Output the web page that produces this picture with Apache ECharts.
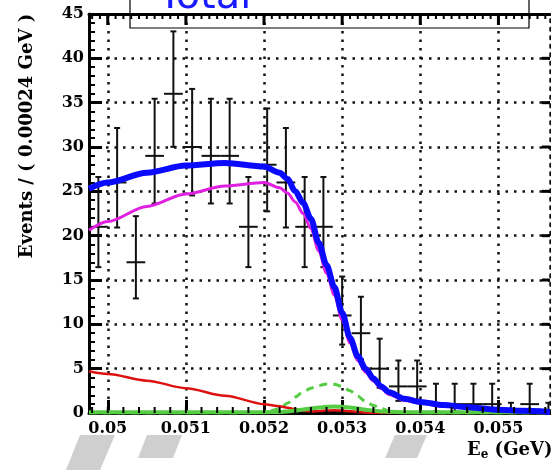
<!DOCTYPE html>
<html>
<head>
<meta charset="utf-8">
<script src="https://cdn.jsdelivr.net/npm/echarts@6/dist/echarts.min.js"></script>
<style>
html, body { margin: 0; padding: 0; background: #fff; }
#chart { width: 551px; height: 470px; }
</style>
</head>
<body>
<div id="chart"></div>
<script>
// histogram bins (GeV), bin width 0.00024
var binWidth = 0.00024;
var binCenters = [0.04988, 0.05012, 0.05036, 0.05060, 0.05084, 0.05108, 0.05132, 0.05156,
	0.05180, 0.05204, 0.05228, 0.05252, 0.05276, 0.05300, 0.05324, 0.05348, 0.05372,
	0.05396, 0.05420, 0.05444, 0.05468, 0.05492, 0.05516, 0.05540, 0.05564];
var counts  = [21, 26, 17, 29, 36, 30, 29, 29, 21, 28, 26, 21, 21, 11, 9, 5, 3, 3, 1, 1, 1, 1, 0, 1, 0];
var errLow  = [4.55, 5.08, 4.08, 5.37, 5.98, 5.46, 5.37, 5.37, 4.55, 5.26, 5.08, 4.55, 4.55,
	3.28, 2.94, 2.16, 1.63, 1.63, 0.83, 0.83, 0.83, 0.83, 0, 0.83, 0];
var errHigh = [5.62, 6.14, 5.20, 6.44, 7.04, 6.55, 6.44, 6.44, 5.62, 6.35, 6.14, 5.62, 5.62,
	4.39, 4.11, 3.38, 2.92, 2.92, 2.30, 2.30, 2.30, 2.30, 1.15, 2.30, 1.15];

// fitted curves, sampled at curveX
var curveX = [0.04976, 0.0500, 0.0505, 0.0510, 0.0515, 0.0520, 0.0522, 0.0523, 0.0524, 0.0525,
	0.0526, 0.0527, 0.0528, 0.0529, 0.0530, 0.0531, 0.0532, 0.0533, 0.0534, 0.0535,
	0.0536, 0.0538, 0.0540, 0.0543, 0.0546, 0.0550, 0.0553, 0.05566];
var totalY   = [25.3, 26.0, 27.1, 27.9, 28.2, 27.8, 27.1, 26.4, 25.0, 23.7, 21.9, 19.2, 16.7, 14.2,
	11.3, 8.5, 6.4, 5.0, 3.9, 3.0, 2.35, 1.6, 1.25, 0.9, 0.65, 0.38, 0.24, 0.12];
var magentaY = [20.6, 21.6, 23.3, 24.7, 25.6, 26.0, 25.4, 24.8, 23.8, 22.5, 20.8, 18.3, 15.8, 13.3,
	10.5, 7.9, 5.9, 4.6, 3.6, 2.75, 2.1, 1.4, 1.1, 0.78, 0.55, 0.32, 0.2, 0.1];
var redY     = [4.7, 4.4, 3.65, 2.8, 1.95, 1.0, 0.75, 0.6, 0.42, 0.25, 0.18, 0.22, 0.28, 0.3,
	0.27, 0.2, 0.12, 0.05, 0.02, 0, 0, 0, 0, 0, 0, 0, 0, 0];
var greenY   = [0.08, 0.08, 0.08, 0.08, 0.08, 0.08, 0.12, 0.18, 0.28, 0.4, 0.52, 0.62, 0.7, 0.72,
	0.7, 0.62, 0.5, 0.38, 0.27, 0.18, 0.13, 0.09, 0.08, 0.08, 0.08, 0.08, 0.08, 0.08];
var dashY    = [0, 0, 0, 0, 0, 0.05, 0.5, 1.1, 1.8, 2.4, 2.8, 3.1, 3.28, 3.25,
	3.0, 2.5, 1.9, 1.3, 0.85, 0.5, 0.28, 0.07, 0.02, 0, 0, 0, 0, 0];
var blackY   = [0, 0, 0, 0, 0, 0, 0, 0, 0.02, 0.08, 0.15, 0.2, 0.22, 0.2,
	0.15, 0.08, 0.03, 0, 0, 0, 0, 0, 0, 0, 0, 0, 0, 0];

// axis ticks
var xMajor = [0.050, 0.051, 0.052, 0.053, 0.054, 0.055];
var xLabels = ['0.05', '0.051', '0.052', '0.053', '0.054', '0.055'];
var yMajor = [5, 10, 15, 20, 25, 30, 35, 40];
var xMinorBottom = [];
for (var k = 249; k <= 278; k++) { xMinorBottom.push(+(k * 0.0002).toFixed(4)); }
var xMinorTop = [];
for (var k2 = 498; k2 <= 556; k2++) { xMinorTop.push(+(k2 * 0.0001).toFixed(4)); }

var xMin = 0.04976, xMax = 0.05566, yMax = 45;
var serif = '"DejaVu Serif"';

var pairs = function(ys){
	return curveX.map(function(x, i){ return [x, ys[i]]; });
};

var renderBar = function(params, api){
	var x = api.value(0), n = api.value(1), lo = api.value(2), hi = api.value(3);
	var top = api.coord([x, n + hi]);
	var bot = api.coord([x, n - lo]);
	var l = api.coord([x - binWidth / 2, n]);
	var r = api.coord([x + binWidth / 2, n]);
	var st = { stroke: '#111', lineWidth: 2 };
	return {
		type: 'group',
		children: [
			{ type: 'line', shape: { x1: top[0], y1: top[1], x2: bot[0], y2: bot[1] }, style: st },
			{ type: 'line', shape: { x1: l[0], y1: l[1], x2: r[0], y2: r[1] }, style: st },
			{ type: 'line', shape: { x1: top[0] - 3, y1: top[1], x2: top[0] + 3, y2: top[1] }, style: st },
			{ type: 'line', shape: { x1: bot[0] - 3, y1: bot[1], x2: bot[0] + 3, y2: bot[1] }, style: st }
		]
	};
};

var dotted = { color: '#111', width: 2.5, type: [2.5, 6] };

var baseGraphic = [
	{ type: 'text', x: 27, y: 136, rotation: Math.PI / 2, silent: true,
		style: { text: 'Events / ( 0.00024 GeV )', fontFamily: serif, fontWeight: 'bold', fontSize: 18,
			fill: '#000', align: 'center', verticalAlign: 'middle' } },
	{ type: 'text', x: 467, y: 450, silent: true,
		style: { text: '{a|E}{b|e}{a| (GeV)}', fill: '#000', verticalAlign: 'middle',
			rich: {
				a: { fontFamily: serif, fontWeight: 'bold', fontSize: 18 },
				b: { fontFamily: serif, fontWeight: 'bold', fontSize: 12, padding: [10, 0, 0, 0] }
			} } },
	{ type: 'rect', silent: true, shape: { x: 130, y: -2, width: 399, height: 30 },
		style: { fill: 'none', stroke: '#000', lineWidth: 1.2 } },
	{ type: 'text', x: 158, y: -2, silent: true,
		style: { text: 'Total', fontFamily: '"DejaVu Sans"', fontSize: 40, fill: '#1a1aff', verticalAlign: 'middle' } },
	{ type: 'polygon', silent: true, shape: { points: [[80, 435], [115, 435], [100, 470], [66, 470]] },
		style: { fill: '#cfcfcf' } },
	{ type: 'polygon', silent: true, shape: { points: [[147, 435], [182, 435], [173, 458], [138, 458]] },
		style: { fill: '#cfcfcf' } },
	{ type: 'polygon', silent: true, shape: { points: [[395, 435], [427, 435], [417, 458], [385, 458]] },
		style: { fill: '#cfcfcf' } }
];

var myChart = echarts.init(document.getElementById('chart'), null, { renderer: 'canvas' });
var option = {
	animation: false,
	backgroundColor: '#fff',
	grid: { left: 89, right: 1, top: 14, bottom: 57, outerBoundsMode: 'none' },
	xAxis: [
		{
			type: 'value', position: 'bottom', min: xMin, max: xMax,
			axisLine: { onZero: false, lineStyle: { color: '#000', width: 3 } },
			axisTick: { inside: true, length: 13, customValues: xMajor, lineStyle: { color: '#000', width: 3 } },
			axisLabel: {
				customValues: xMajor, margin: 8,
				fontFamily: serif, fontWeight: 'bold', fontSize: 16, color: '#000',
				formatter: function(v){
					var i = xMajor.findIndex(function(m){ return Math.abs(m - v) < 1e-7; });
					return i >= 0 ? xLabels[i] : '';
				}
			},
			splitLine: { show: true, lineStyle: dotted }
		},
		{
			type: 'value', position: 'top', min: xMin, max: xMax,
			axisLine: { onZero: false, lineStyle: { color: '#000', width: 3 } },
			axisTick: { show: false }, axisLabel: { show: false }, splitLine: { show: false }
		}
	],
	yAxis: [
		{
			type: 'value', position: 'left', min: 0, max: yMax, interval: 5,
			axisLine: { show: true, onZero: false, lineStyle: { color: '#000', width: 3 } },
			axisTick: { show: true, inside: true, length: 13, lineStyle: { color: '#000', width: 3 } },
			minorTick: { show: true, splitNumber: 5, length: 6, lineStyle: { color: '#000', width: 2 } },
			axisLabel: { margin: 5, fontFamily: serif, fontWeight: 'bold', fontSize: 16, color: '#000' },
			splitLine: { show: true, lineStyle: dotted }
		},
		{
			type: 'value', position: 'right', min: 0, max: yMax, interval: 5,
			axisLine: { show: true, onZero: false, lineStyle: dotted },
			axisTick: { show: false }, axisLabel: { show: false }, splitLine: { show: false }
		}
	],
	series: [
		{
			type: 'custom', name: 'data', clip: true,
			renderItem: renderBar,
			encode: { x: 0, y: 1 },
			data: binCenters.map(function(c, i){ return [c, counts[i], errLow[i], errHigh[i]]; })
		},
		{ type: 'line', name: 'dashed', data: pairs(dashY), showSymbol: false, smooth: 0.3, smoothMonotone: 'x',
			lineStyle: { color: '#55cc44', width: 3, type: [8, 6] } },
		{ type: 'line', name: 'black', data: pairs(blackY), showSymbol: false, smooth: 0.3, smoothMonotone: 'x',
			lineStyle: { color: '#111', width: 2 } },
		{ type: 'line', name: 'red', data: pairs(redY), showSymbol: false, smooth: 0.3, smoothMonotone: 'x',
			lineStyle: { color: '#dd1111', width: 2.5 } },
		{ type: 'line', name: 'green', data: pairs(greenY), showSymbol: false, smooth: 0.3, smoothMonotone: 'x',
			lineStyle: { color: '#55cc44', width: 4 } },
		{ type: 'line', name: 'signal', data: pairs(magentaY), showSymbol: false, smooth: 0.3, smoothMonotone: 'x',
			lineStyle: { color: '#e020e0', width: 3 } },
		{ type: 'line', name: 'Total', data: pairs(totalY), showSymbol: false, smooth: 0.3, smoothMonotone: 'x',
			lineStyle: { color: '#0a0aff', width: 6 } }
	],
	graphic: baseGraphic
};
myChart.setOption(option);

// frame ticks that the axes cannot draw themselves, placed with the chart's own scales
var frameTicks = function(){
	var out = [];
	var x0 = myChart.convertToPixel({ xAxisIndex: 0 }, xMax);
	var yBottom = myChart.convertToPixel({ yAxisIndex: 0 }, 0);
	var yTop = myChart.convertToPixel({ yAxisIndex: 0 }, yMax);
	var add = function(x1, y1, x2, y2, w){
		out.push({ type: 'line', silent: true, z: 50,
			shape: { x1: x1, y1: y1, x2: x2, y2: y2 }, style: { stroke: '#000', lineWidth: w } });
	};
	xMinorBottom.forEach(function(v){
		var px = myChart.convertToPixel({ xAxisIndex: 0 }, v);
		add(px, yBottom, px, yBottom - 6, 2);
	});
	xMinorTop.forEach(function(v){
		var px = myChart.convertToPixel({ xAxisIndex: 0 }, v);
		add(px, yTop, px, yTop + 5, 2);
	});
	xMajor.forEach(function(v){
		var px = myChart.convertToPixel({ xAxisIndex: 0 }, v);
		add(px, yTop, px, yTop + 11, 3);
	});
	yMajor.forEach(function(v){
		var py = myChart.convertToPixel({ yAxisIndex: 0 }, v);
		add(x0, py, x0 - 8, py, 3);
	});
	return out;
};
myChart.setOption({ graphic: baseGraphic.concat(frameTicks()) });

window.onresize = function(){
	myChart.resize();
};
</script>
</body>
</html>
